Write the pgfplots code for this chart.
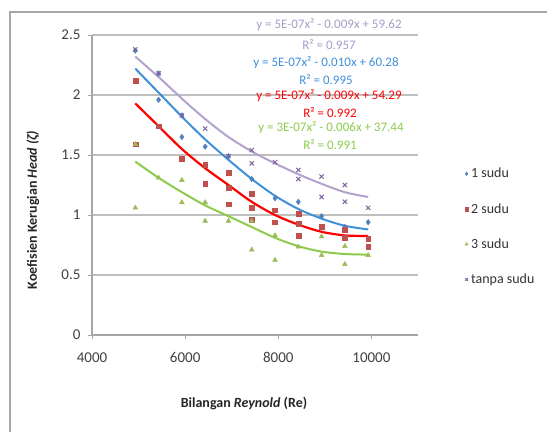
\documentclass[border=0pt]{standalone}
\usepackage{pgfplots}
\pgfplotsset{compat=1.18}
\usepackage{fontspec}
\setmainfont{Carlito}
\definecolor{sblue}{HTML}{4F81BD}
\definecolor{sred}{HTML}{C0504D}
\definecolor{sgreen}{HTML}{9BBB59}
\definecolor{spurple}{HTML}{8064A2}
\definecolor{tblue}{HTML}{3F8FDB}
\definecolor{tred}{HTML}{FF0000}
\definecolor{tgreen}{HTML}{8CCB4B}
\definecolor{tpurple}{HTML}{B3A2CC}
\definecolor{eqpurple}{HTML}{A99BC9}
\definecolor{gridc}{HTML}{BFBFBF}
\definecolor{axc}{HTML}{A6A6A6}
\begin{document}
\begin{tikzpicture}[x=1pt,y=1pt]
\path[use as bounding box] (0,0) rectangle (547,-432);
\draw[axc, line width=1.5pt] (10,-432) -- (10,-12) -- (547,-12);
\begin{axis}[
  scale only axis, width=326pt, height=300pt,
  at={(92pt,-335pt)}, anchor=south west,
  xmin=4000, xmax=11000, ymin=0, ymax=2.5,
  xtick={4000,6000,8000,10000}, ytick={0,0.5,1,1.5,2,2.5},
  scaled x ticks=false, scaled y ticks=false,
  ymajorgrids, grid style={gridc, line width=1.2pt},
  axis x line*=bottom, axis y line*=left,
  axis line style={-, axc, line width=1.2pt},
  tick align=outside, major tick length=4pt,
  tick style={axc, line width=1pt},
  /pgf/number format/assume math mode=true,
  /pgf/number format/set thousands separator={},
  ticklabel style={font=\fontsize{15}{17}\selectfont, text=black!75},
  xticklabel style={yshift=-10pt},
  yticklabel style={xshift=-4pt},
  clip=false,
  legend style={at={(1.143,0.56)}, anchor=north west, draw=none, fill=none,
    font=\fontsize{14}{16}\selectfont, text=black!80, row sep=22pt, inner sep=0pt,
    nodes={inner sep=1pt}},
  legend cell align=left,
  legend image code/.code={\path[draw=none, fill=none] (0pt,0pt) -- (3.5pt,0pt); \draw[#1, mark size=1.8pt] plot coordinates {(0pt,0pt)};},
]
\addplot[only marks, mark=diamond*, mark size=2.8pt, color=sblue] coordinates {
(4930,2.37)(5430,2.18)(5430,1.96)(5930,1.83)(5930,1.65)(6430,1.57)(6930,1.49)
(7430,1.30)(7930,1.14)(8430,1.11)(8930,0.99)(9430,0.90)(9930,0.94)};
\addlegendentry{1 sudu}
\addplot[only marks, mark=square*, mark size=2.4pt, color=sred] coordinates {
(4930,2.12)(4930,1.59)(5430,1.74)(5930,1.47)(6430,1.42)(6430,1.26)(6930,1.35)
(6930,1.23)(6930,1.09)(7430,1.18)(7430,1.06)(7430,0.96)(7930,1.04)(7930,0.94)
(8430,1.01)(8430,0.93)(8430,0.83)(8930,0.90)(9430,0.88)(9430,0.81)(9930,0.80)(9930,0.735)};
\addlegendentry{2 sudu}
\addplot[only marks, mark=triangle*, mark size=2.8pt, color=sgreen] coordinates {
(4930,1.59)(4930,1.06)(5430,1.31)(5930,1.29)(5930,1.105)(6430,1.105)(6430,0.95)
(6930,0.95)(7430,0.95)(7430,0.71)(7930,0.83)(7930,0.625)(8430,0.735)(8930,0.82)
(8930,0.665)(9430,0.74)(9430,0.59)(9930,0.665)};
\addlegendentry{3 sudu}
\addplot[only marks, mark=x, mark size=3pt, line width=1pt, color=spurple] coordinates {
(4930,2.38)(5430,2.18)(5930,1.83)(6430,1.72)(6930,1.49)(7430,1.54)(7430,1.43)
(7930,1.44)(8430,1.375)(8430,1.30)(8930,1.32)(8930,1.15)(9430,1.25)(9430,1.11)(9930,1.06)};
\addlegendentry{tanpa sudu}
% trendlines
\addplot[tpurple, line width=2pt, smooth, forget plot] coordinates {
(4930,2.32)(5430,2.15)(5930,1.97)(6430,1.80)(6930,1.65)(7430,1.53)(7930,1.43)
(8430,1.34)(8930,1.26)(9430,1.19)(9930,1.15)};
\addplot[tblue, line width=2pt, smooth, forget plot] coordinates {
(4930,2.22)(5430,2.02)(5930,1.82)(6430,1.63)(6930,1.46)(7430,1.30)(7930,1.16)
(8430,1.05)(8930,0.97)(9430,0.91)(9930,0.88)};
\addplot[tred, line width=2.2pt, smooth, forget plot] coordinates {
(4930,1.93)(5430,1.74)(5930,1.55)(6430,1.39)(6930,1.25)(7430,1.11)(7930,1.00)
(8430,0.92)(8930,0.86)(9430,0.83)(9930,0.825)};
\addplot[tgreen, line width=2pt, smooth, forget plot] coordinates {
(4930,1.445)(5430,1.31)(5930,1.19)(6430,1.08)(6930,0.99)(7430,0.90)(7930,0.81)
(8430,0.74)(8930,0.695)(9430,0.675)(9930,0.67)};
\end{axis}
\begin{scope}[every node/.style={font=\fontsize{13}{15}\selectfont, inner sep=0pt}]
\node[text=eqpurple] at (329,-25) {y = 5E-07x² - 0.009x + 59.62};
\node[text=eqpurple] at (329,-45) {R² = 0.957};
\node[text=tblue] at (326,-63) {y = 5E-07x² - 0.010x + 60.28};
\node[text=tblue] at (326,-80) {R² = 0.995};
\node[text=tred] at (329,-96) {y = 5E-07x² - 0.009x + 54.29};
\node[text=tred] at (330,-113) {R² = 0.992};
\node[text=tgreen] at (331,-128) {y = 3E-07x² - 0.006x + 37.44};
\node[text=tgreen] at (330,-145) {R² = 0.991};
\end{scope}
\node[font=\bfseries\fontsize{14}{16}\selectfont, text=black!85] at (244,-403) {Bilangan \textit{Reynold} (Re)};
\node[font=\bfseries\fontsize{14}{16}\selectfont, text=black!85, rotate=90] at (33,-210) {Koefisien Kerugian \textit{Head (ζ)}};
\end{tikzpicture}
\end{document}
